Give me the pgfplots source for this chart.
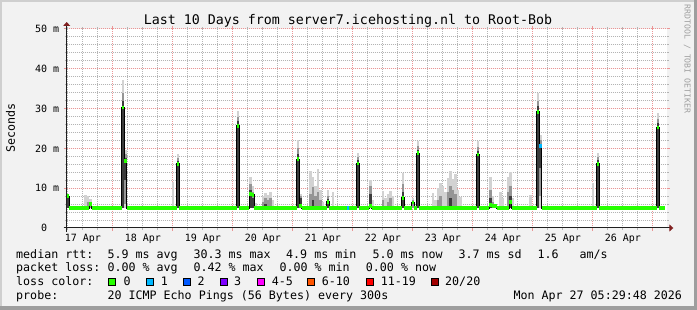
\documentclass[border=0pt]{standalone}
\usepackage{pgfplots}
\pgfplotsset{compat=1.18}
\usepackage{fontspec}
\setmainfont{DejaVu Sans Mono}
\setmonofont{DejaVu Sans Mono}
\usetikzlibrary{arrows.meta}
\definecolor{bgc}{HTML}{F2F2F2}
\definecolor{shadea}{HTML}{CFCFCF}
\definecolor{shadeb}{HTML}{9E9E9E}
\definecolor{gridc}{HTML}{B4B4B4}
\definecolor{mgridc}{HTML}{EB9595}
\definecolor{arrowc}{HTML}{801F1F}
\definecolor{axisc}{HTML}{1F1F1F}
\definecolor{loss0}{HTML}{26FF00}
\definecolor{loss1}{HTML}{00B8FF}
\definecolor{loss2}{HTML}{0059FF}
\definecolor{loss3}{HTML}{7E00FF}
\definecolor{loss4}{HTML}{FF00FF}
\definecolor{loss6}{HTML}{FF5500}
\definecolor{loss11}{HTML}{FF0000}
\definecolor{loss20}{HTML}{A10000}
\definecolor{smokeL}{HTML}{D2D2D2}
\definecolor{smokeM}{HTML}{959595}
\definecolor{smokeD}{HTML}{3C3C3C}
\definecolor{sidec}{HTML}{A0A0A0}
\newcommand{\lgfont}{\fontsize{11.66bp}{13bp}\selectfont}
\newcommand{\tkfont}{\fontsize{10bp}{12bp}\selectfont}
\begin{document}
\begin{tikzpicture}
\path[use as bounding box] (0bp,0bp) rectangle (697bp,310bp);
\fill[shadeb] (0bp,0bp) rectangle (697bp,310bp);
\fill[shadea] (0bp,4bp) rectangle (694bp,310bp);
\fill[bgc] (2bp,4bp) rectangle (694bp,308bp);
\fill[white] (66.7bp,82bp) rectangle (666.7bp,281bp);
\begin{axis}[
  at={(66.7bp,82bp)}, anchor=south west,
  scale only axis, width=600bp, height=199bp,
  xmin=5.5, xmax=245.5, ymin=0, ymax=50,
  axis line style={draw=none},
  xtick={24,48,...,240}, xticklabels={},
  minor xtick={6,12,...,246},
  ytick={0,10,...,50},
  yticklabels={0\phantom{~m},10 m,20 m,30 m,40 m,50 m},
  minor ytick={2,4,...,48},
  grid=both,
  major grid style={mgridc, line width=1bp, dash pattern=on 1bp off 1bp},
  minor grid style={gridc, line width=1bp, dash pattern=on 1bp off 1bp},
  major tick style={mgridc, line width=1bp},
  minor tick style={gridc, line width=1bp},
  major tick length=3bp, minor tick length=2bp,
  tick align=outside,
  tick label style={font=\tkfont, text=black},
  yticklabel style={anchor=east, inner sep=0pt, xshift=-4.4bp},
  extra x ticks={12,36,60,84,108,132,156,180,204,228},
  extra x tick labels={17 Apr,18 Apr,19 Apr,20 Apr,21 Apr,22 Apr,23 Apr,24 Apr,25 Apr,26 Apr},
  extra x tick style={grid=none, major tick length=0pt,
    xticklabel style={anchor=base, inner sep=0pt, yshift=-13.7bp}},
  clip=true,
]
% smoke: light layer
\addplot[smokeL, line width=2.5bp, mark=none, unbounded coords=jump] coordinates {
(6,5)(6,8.6)(6,nan) (13,5)(13,8.3)(13,nan) (14,5)(14,8.0)(14,nan) (15,5)(15,7.2)(15,nan)
(28,5)(28,37.2)(28,nan) (29,5)(29,19.6)(29,nan) (48,5)(48,11.5)(48,nan) (50,5)(50,18.6)(50,nan)
(74,5)(74,29.5)(74,nan) (79,5)(79,12.8)(79,nan) (80,5)(80,10.5)(80,nan) (81,5)(81,6.4)(81,nan)
(84,5)(84,8.0)(84,nan) (85,5)(85,8.9)(85,nan) (86,5)(86,8.3)(86,nan) (87,5)(87,9.0)(87,nan)
(88,5)(88,7.0)(88,nan) (98,5)(98,22.0)(98,nan) (99,5)(99,8.6)(99,nan) (103,5)(103,14.4)(103,nan)
(104,5)(104,12.8)(104,nan) (105,5)(105,10.5)(105,nan) (106,5)(106,14.8)(106,nan) (107,5)(107,9.5)(107,nan)
(108,5)(108,6.5)(108,nan) (110,5)(110,9.5)(110,nan) (112,5)(112,9.1)(112,nan) (122,5)(122,18.8)(122,nan)
(127,5)(127,12.0)(127,nan) (128,5)(128,7.0)(128,nan) (132,5)(132,9.3)(132,nan) (133,5)(133,7.5)(133,nan)
(134,5)(134,8.5)(134,nan) (135,5)(135,9.4)(135,nan) (136,5)(136,8.0)(136,nan) (140,5)(140,13.9)(140,nan)
(144,5)(144,7.5)(144,nan) (146,5)(146,21.9)(146,nan) (152,5)(152,8.9)(152,nan) (153,5)(153,7.0)(153,nan)
(154,5)(154,10.0)(154,nan) (155,5)(155,11.3)(155,nan) (156,5)(156,10.5)(156,nan) (157,5)(157,9.0)(157,nan)
(158,5)(158,12.5)(158,nan) (159,5)(159,14.2)(159,nan) (160,5)(160,12.3)(160,nan) (161,5)(161,13.5)(161,nan)
(162,5)(162,9.6)(162,nan) (163,5)(163,7.9)(163,nan) (170,5)(170,21.8)(170,nan) (175,5)(175,12.9)(175,nan)
(176,5)(176,8.0)(176,nan) (179,5)(179,9.1)(179,nan) (180,5)(180,7.5)(180,nan) (182,5)(182,12.9)(182,nan)
(183,5)(183,14.1)(183,nan) (184,5)(184,7.5)(184,nan) (191,5)(191,8.3)(191,nan) (194,5)(194,34.0)(194,nan)
(195,5)(195,23.4)(195,nan) (216,5)(216,11.4)(216,nan) (218,5)(218,18.9)(218,nan) (242,5)(242,29.0)(242,nan)
};
% smoke: mid layer
\addplot[smokeM, line width=2.5bp, mark=none, unbounded coords=jump] coordinates {
(6,5)(6,8.3)(6,nan) (14,5)(14,6.5)(14,nan) (15,5)(15,6.6)(15,nan) (28,5)(28,34.0)(28,nan)
(29,6)(29,18.6)(29,nan) (50,5)(50,17.6)(50,nan) (74,5)(74,28.0)(74,nan) (79,5)(79,11.0)(79,nan)
(80,5)(80,9.0)(80,nan) (84,5)(84,6.5)(84,nan) (85,5)(85,7.5)(85,nan) (86,5)(86,7.0)(86,nan)
(87,5)(87,7.5)(87,nan) (98,5)(98,20.2)(98,nan) (99,5)(99,8.0)(99,nan) (103,5)(103,8.5)(103,nan)
(104,5)(104,10.4)(104,nan) (105,5)(105,8.0)(105,nan) (106,5)(106,9.0)(106,nan) (107,5)(107,7.0)(107,nan)
(110,5)(110,8.0)(110,nan) (122,5)(122,17.8)(122,nan) (127,5)(127,10.5)(127,nan) (132,5)(132,7.0)(132,nan)
(134,5)(134,6.5)(134,nan) (135,5)(135,7.5)(135,nan) (140,5)(140,11.0)(140,nan) (144,5)(144,7.0)(144,nan)
(146,5)(146,20.5)(146,nan) (154,5)(154,7.0)(154,nan) (155,5)(155,8.0)(155,nan) (158,5)(158,9.0)(158,nan)
(159,5)(159,10.5)(159,nan) (160,5)(160,9.5)(160,nan) (161,5)(161,8.5)(161,nan) (170,5)(170,20.3)(170,nan)
(175,5)(175,9.5)(175,nan) (176,5)(176,6.5)(176,nan) (182,5)(182,9.0)(182,nan) (183,5)(183,10.5)(183,nan)
(194,5)(194,32.0)(194,nan) (195,8)(195,22.0)(195,nan) (218,5)(218,17.8)(218,nan) (242,5)(242,27.3)(242,nan)
};
% smoke: dark layer
\addplot[smokeD, line width=2.5bp, mark=none, unbounded coords=jump] coordinates {
(6,5)(6,8.0)(6,nan) (28,5)(28,32.0)(28,nan) (29,12)(29,17.6)(29,nan) (50,5)(50,16.9)(50,nan)
(74,5)(74,26.8)(74,nan) (79,5)(79,9.5)(79,nan) (80,5)(80,7.5)(80,nan) (85,5)(85,6.0)(85,nan)
(98,5)(98,18.6)(98,nan) (99,5)(99,7.5)(99,nan) (104,5)(104,7.0)(104,nan) (110,5)(110,7.2)(110,nan)
(122,5)(122,17.0)(122,nan) (127,5)(127,8.5)(127,nan) (140,5)(140,9.0)(140,nan) (146,5)(146,19.6)(146,nan)
(159,5)(159,7.5)(159,nan) (170,5)(170,19.3)(170,nan) (175,5)(175,7.5)(175,nan) (183,5)(183,8.0)(183,nan)
(194,5)(194,30.6)(194,nan) (195,15)(195,21.0)(195,nan) (218,5)(218,17.0)(218,nan) (242,5)(242,26.3)(242,nan)
};
% median rtt (black steps)
\addplot[black, line width=1bp, mark=none, const plot mark left] coordinates {
(5.5,8.0) (6.5,5.0) (14.5,6.0) (15.5,5.0) (27.5,30.3) (28.5,16.9) (29.5,5.0) (49.5,16.1) (50.5,5.0)
(73.5,25.7) (74.5,5.0) (78.5,8.5) (79.5,8.3) (80.5,5.0) (97.5,17.3) (98.5,5.5) (99.5,5.0) (109.5,6.6)
(110.5,5.0) (121.5,16.2) (122.5,5.0) (126.5,5.5) (127.5,5.0) (139.5,7.6) (140.5,5.0) (143.5,6.4)
(144.5,5.0) (145.5,18.8) (146.5,5.0) (169.5,18.5) (170.5,5.0) (174.5,5.8) (175.5,5.5) (177.5,5.0)
(182.5,6.6) (183.5,5.0) (193.5,29.2) (194.5,20.6) (195.5,5.0) (217.5,16.1) (218.5,5.0) (241.5,25.3)
(242.5,5.0) (244.8,5.0)
};
% median rtt coloured by loss (0 lost)
\addplot[loss0, line width=3.6bp, mark=none, jump mark left] coordinates {
(5.5,8.0) (6.5,5.0) (14.5,6.0) (15.5,5.0) (27.5,30.3) (28.5,16.9) (29.5,5.0) (49.5,16.1) (50.5,5.0)
(73.5,25.7) (74.5,5.0) (78.5,8.5) (79.5,8.3) (80.5,5.0) (97.5,17.3) (98.5,5.5) (99.5,5.0) (109.5,6.6)
(110.5,5.0) (121.5,16.2) (122.5,5.0) (126.5,5.5) (127.5,5.0) (139.5,7.6) (140.5,5.0) (143.5,6.4)
(144.5,5.0) (145.5,18.8) (146.5,5.0) (169.5,18.5) (170.5,5.0) (174.5,5.8) (175.5,5.5) (177.5,5.0)
(182.5,6.6) (183.5,5.0) (193.5,29.2) (194.5,20.6) (195.5,5.0) (217.5,16.1) (218.5,5.0) (241.5,25.3)
(242.5,5.0) (244.8,5.0)
};
% 1 lost
\addplot[loss1, line width=3.6bp, mark=none, jump mark left] coordinates {(117.5,5.0) (118.5,5.0)};
\addplot[loss1, line width=3.6bp, mark=none, jump mark left] coordinates {(194.5,20.6) (195.5,20.6)};
\end{axis}
% axes with arrows
\draw[axisc, line width=1bp, -{Triangle[length=4bp,width=7bp,color=arrowc]}] (63.7bp,82bp) -- (673.3bp,82bp);
\draw[axisc, line width=1bp, -{Triangle[length=4bp,width=7bp,color=arrowc]}] (66.7bp,78.3bp) -- (66.7bp,288bp);
% title and side texts
\node[anchor=base, inner sep=0pt, font=\fontsize{13.3bp}{15bp}\selectfont] at (348bp,285.5bp) {Last 10 Days from server7.icehosting.nl to Root-Bob};
\node[rotate=90, inner sep=0pt, font=\lgfont] at (10.5bp,182bp) {Seconds};
\node[rotate=-90, inner sep=0pt, text=sidec, font=\fontsize{8.2bp}{9bp}\selectfont] at (687.3bp,251bp) {RRDTOOL / TOBI OETIKER};
% legend
\begin{scope}[every node/.style={anchor=base west, inner sep=0pt, font=\lgfont}]
\node at (16bp,51.7bp) {median rtt:};
\node at (107.3bp,51.7bp) {5.9 ms avg};
\node at (193.3bp,51.7bp) {30.3 ms max};
\node at (286bp,51.7bp) {4.9 ms min};
\node at (372.3bp,51.7bp) {5.0 ms now};
\node at (458.3bp,51.7bp) {3.7 ms sd};
\node at (537.3bp,51.7bp) {1.6~~~am/s};
\node at (16bp,38.3bp) {packet loss:};
\node at (107.3bp,38.3bp) {0.00 \% avg};
\node at (193.3bp,38.3bp) {0.42 \% max};
\node at (279.3bp,38.3bp) {0.00 \% min};
\node at (365.7bp,38.3bp) {0.00 \% now};
\node at (16bp,24.3bp) {loss color:};
\node at (123.3bp,24.3bp) {0};
\node at (160.7bp,24.3bp) {1};
\node at (197.3bp,24.3bp) {2};
\node at (234bp,24.3bp) {3};
\node at (271.7bp,24.3bp) {4-5};
\node at (321.7bp,24.3bp) {6-10};
\node at (380.7bp,24.3bp) {11-19};
\node at (445bp,24.3bp) {20/20};
\node at (16bp,10.7bp) {probe:};
\node at (107.3bp,10.7bp) {20 ICMP Echo Pings (56 Bytes) every 300s};
\node at (513.3bp,10.7bp) {Mon Apr 27 05:29:48 2026};
\end{scope}
\foreach \xx/\cc in {108.8/loss0,146.2/loss1,183.2/loss2,220.5/loss3,257.8/loss4,307.8/loss6,366.2/loss11,431.2/loss20}{
  \filldraw[fill=\cc, draw=black, line width=1bp] (\xx bp,24.2bp) rectangle ++(7bp,7bp);
}
\end{tikzpicture}
\end{document}
